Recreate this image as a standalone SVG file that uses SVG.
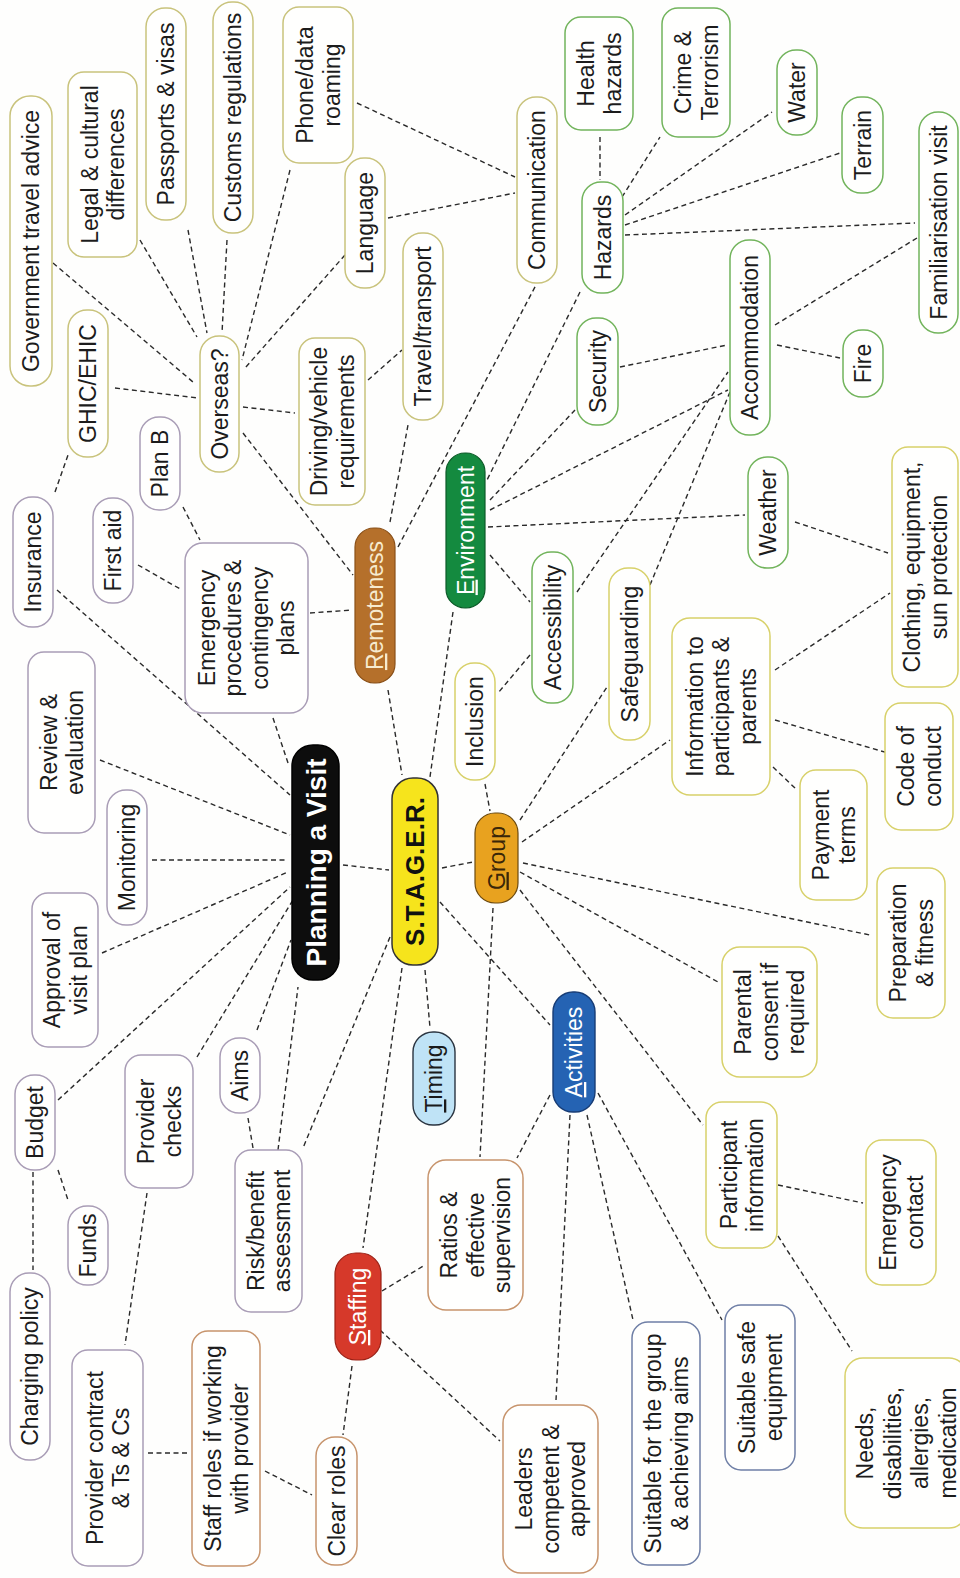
<svg xmlns="http://www.w3.org/2000/svg" width="960" height="1578" viewBox="0 0 960 1578">
<style>
.bg{fill:#fefefd}
.n rect{fill:#fffffe;stroke-width:1.5}
.t{font-family:"Liberation Sans",Arial,sans-serif;font-size:23px;fill:#1c1c1c;text-anchor:middle}
.ov rect{stroke:#c9c37c}
.gr rect{stroke:#72b45c}
.pu rect{stroke:#a99db6}
.br rect{stroke:#c7946c}
.bl rect{stroke:#6f7fa6}
.ye rect{stroke:#d8d16a}
.c line{stroke:#2a2a2a;stroke-width:1.4;stroke-dasharray:5 3.5;fill:none}
.b{font-weight:bold}
</style>
<rect class="bg" x="0" y="0" width="960" height="1578"/>
<g id="connectors" class="c">
<line x1="57" y1="590" x2="290" y2="795"/>
<line x1="100" y1="760" x2="290" y2="835"/>
<line x1="273" y1="718" x2="289" y2="766"/>
<line x1="152" y1="860" x2="288" y2="860"/>
<line x1="102" y1="953" x2="288" y2="872"/>
<line x1="58" y1="1100" x2="290" y2="887"/>
<line x1="197" y1="1057" x2="293" y2="900"/>
<line x1="257" y1="1030" x2="291" y2="940"/>
<line x1="278" y1="1150" x2="298" y2="987"/>
<line x1="343" y1="865" x2="389" y2="870"/>
<line x1="388" y1="690" x2="402" y2="775"/>
<line x1="453" y1="612" x2="430" y2="777"/>
<line x1="442" y1="868" x2="473" y2="862"/>
<line x1="440" y1="902" x2="550" y2="1025"/>
<line x1="425" y1="970" x2="430" y2="1028"/>
<line x1="402" y1="968" x2="363" y2="1248"/>
<line x1="390" y1="937" x2="303" y2="1148"/>
<line x1="243" y1="433" x2="353" y2="575"/>
<line x1="310" y1="613" x2="352" y2="610"/>
<line x1="390" y1="522" x2="408" y2="425"/>
<line x1="398" y1="547" x2="536" y2="285"/>
<line x1="53" y1="263" x2="193" y2="382"/>
<line x1="140" y1="240" x2="197" y2="337"/>
<line x1="188" y1="230" x2="207" y2="333"/>
<line x1="227" y1="240" x2="222" y2="333"/>
<line x1="290" y1="170" x2="242" y2="360"/>
<line x1="345" y1="255" x2="245" y2="368"/>
<line x1="115" y1="388" x2="198" y2="398"/>
<line x1="243" y1="407" x2="295" y2="413"/>
<line x1="368" y1="380" x2="402" y2="350"/>
<line x1="55" y1="492" x2="68" y2="455"/>
<line x1="183" y1="507" x2="200" y2="540"/>
<line x1="138" y1="565" x2="182" y2="590"/>
<line x1="357" y1="103" x2="515" y2="177"/>
<line x1="388" y1="218" x2="515" y2="193"/>
<line x1="600" y1="137" x2="600" y2="180"/>
<line x1="622" y1="197" x2="660" y2="137"/>
<line x1="625" y1="215" x2="772" y2="112"/>
<line x1="625" y1="225" x2="840" y2="153"/>
<line x1="625" y1="235" x2="915" y2="223"/>
<line x1="580" y1="292" x2="487" y2="480"/>
<line x1="490" y1="500" x2="575" y2="410"/>
<line x1="490" y1="510" x2="728" y2="390"/>
<line x1="488" y1="527" x2="745" y2="515"/>
<line x1="490" y1="555" x2="530" y2="602"/>
<line x1="620" y1="367" x2="727" y2="345"/>
<line x1="577" y1="592" x2="728" y2="372"/>
<line x1="650" y1="585" x2="730" y2="392"/>
<line x1="777" y1="345" x2="840" y2="358"/>
<line x1="775" y1="325" x2="917" y2="238"/>
<line x1="485" y1="784" x2="490" y2="811"/>
<line x1="520" y1="820" x2="607" y2="687"/>
<line x1="522" y1="842" x2="670" y2="740"/>
<line x1="523" y1="863" x2="870" y2="935"/>
<line x1="520" y1="872" x2="718" y2="982"/>
<line x1="520" y1="890" x2="703" y2="1125"/>
<line x1="493" y1="908" x2="480" y2="1157"/>
<line x1="773" y1="767" x2="797" y2="790"/>
<line x1="775" y1="720" x2="888" y2="753"/>
<line x1="775" y1="670" x2="890" y2="593"/>
<line x1="795" y1="522" x2="888" y2="553"/>
<line x1="530" y1="655" x2="498" y2="693"/>
<line x1="778" y1="1185" x2="863" y2="1203"/>
<line x1="778" y1="1236" x2="852" y2="1351"/>
<line x1="550" y1="1095" x2="517" y2="1158"/>
<line x1="570" y1="1115" x2="556" y2="1400"/>
<line x1="587" y1="1115" x2="633" y2="1320"/>
<line x1="598" y1="1093" x2="722" y2="1320"/>
<line x1="352" y1="1366" x2="343" y2="1435"/>
<line x1="382" y1="1291" x2="425" y2="1265"/>
<line x1="380" y1="1330" x2="500" y2="1441"/>
<line x1="33" y1="1172" x2="33" y2="1270"/>
<line x1="58" y1="1170" x2="68" y2="1200"/>
<line x1="147" y1="1193" x2="125" y2="1345"/>
<line x1="148" y1="1453" x2="187" y2="1453"/>
<line x1="265" y1="1471" x2="312" y2="1495"/>
<line x1="248" y1="1118" x2="253" y2="1148"/>
</g>

<g id="gov" class="n ov"><rect x="10" y="96" width="42" height="290" rx="20"/><text class="t" transform="translate(31 241) rotate(-90)"><tspan x="0" y="8">Government travel advice</tspan></text></g>
<g id="legal" class="n ov"><rect x="68" y="72" width="69" height="185" rx="16"/><text class="t" transform="translate(102.5 164.5) rotate(-90)"><tspan x="0" y="-5">Legal &amp; cultural</tspan><tspan x="0" y="21.5">differences</tspan></text></g>
<g id="passports" class="n ov"><rect x="146" y="8" width="40" height="212" rx="19"/><text class="t" transform="translate(166 114) rotate(-90)"><tspan x="0" y="8">Passports &amp; visas</tspan></text></g>
<g id="customs" class="n ov"><rect x="213" y="2" width="40" height="231" rx="19"/><text class="t" transform="translate(233 117.5) rotate(-90)"><tspan x="0" y="8">Customs regulations</tspan></text></g>
<g id="phone" class="n ov"><rect x="283" y="7" width="70" height="156" rx="16"/><text class="t" transform="translate(318 85) rotate(-90)"><tspan x="0" y="-5">Phone/data</tspan><tspan x="0" y="21.5">roaming</tspan></text></g>
<g id="language" class="n ov"><rect x="345" y="158" width="40" height="130" rx="19"/><text class="t" transform="translate(365 223) rotate(-90)"><tspan x="0" y="8">Language</tspan></text></g>
<g id="communication" class="n ov"><rect x="517" y="97" width="40" height="186" rx="19"/><text class="t" transform="translate(537 190) rotate(-90)"><tspan x="0" y="8">Communication</tspan></text></g>
<g id="overseas" class="n ov"><rect x="200" y="336" width="39" height="136" rx="19"/><text class="t" transform="translate(219.5 404) rotate(-90)"><tspan x="0" y="8">Overseas?</tspan></text></g>
<g id="ghic" class="n ov"><rect x="68" y="310" width="40" height="147" rx="19"/><text class="t" transform="translate(88 383.5) rotate(-90)"><tspan x="0" y="8">GHIC/EHIC</tspan></text></g>
<g id="driving" class="n ov"><rect x="299" y="338" width="66" height="167" rx="16"/><text class="t" transform="translate(332 421.5) rotate(-90)"><tspan x="0" y="-5">Driving/vehicle</tspan><tspan x="0" y="21.5">requirements</tspan></text></g>
<g id="travel" class="n ov"><rect x="403" y="233" width="40" height="187" rx="19"/><text class="t" transform="translate(423 326.5) rotate(-90)"><tspan x="0" y="8">Travel/transport</tspan></text></g>

<g id="health" class="n gr"><rect x="565" y="17" width="68" height="113" rx="16"/><text class="t" transform="translate(599 73.5) rotate(-90)"><tspan x="0" y="-5">Health</tspan><tspan x="0" y="21.5">hazards</tspan></text></g>
<g id="hazards" class="n gr"><rect x="582" y="182" width="41" height="111" rx="19"/><text class="t" transform="translate(602.5 237.5) rotate(-90)"><tspan x="0" y="8">Hazards</tspan></text></g>
<g id="crime" class="n gr"><rect x="662" y="8" width="68" height="129" rx="16"/><text class="t" transform="translate(696 72.5) rotate(-90)"><tspan x="0" y="-5">Crime &amp;</tspan><tspan x="0" y="21.5">Terrorism</tspan></text></g>
<g id="water" class="n gr"><rect x="777" y="50" width="40" height="85" rx="19"/><text class="t" transform="translate(797 92.5) rotate(-90)"><tspan x="0" y="8">Water</tspan></text></g>
<g id="terrain" class="n gr"><rect x="842" y="97" width="41" height="96" rx="19"/><text class="t" transform="translate(862.5 145) rotate(-90)"><tspan x="0" y="8">Terrain</tspan></text></g>
<g id="familiarisation" class="n gr"><rect x="919" y="112" width="39" height="221" rx="19"/><text class="t" transform="translate(938.5 222.5) rotate(-90)"><tspan x="0" y="8">Familiarisation visit</tspan></text></g>
<g id="fire" class="n gr"><rect x="843" y="330" width="40" height="67" rx="19"/><text class="t" transform="translate(863 363.5) rotate(-90)"><tspan x="0" y="8">Fire</tspan></text></g>
<g id="accommodation" class="n gr"><rect x="730" y="240" width="40" height="195" rx="19"/><text class="t" transform="translate(750 337.5) rotate(-90)"><tspan x="0" y="8">Accommodation</tspan></text></g>
<g id="security" class="n gr"><rect x="577" y="318" width="41" height="107" rx="19"/><text class="t" transform="translate(597.5 371.5) rotate(-90)"><tspan x="0" y="8">Security</tspan></text></g>
<g id="weather" class="n gr"><rect x="748" y="457" width="40" height="111" rx="19"/><text class="t" transform="translate(768 512.5) rotate(-90)"><tspan x="0" y="8">Weather</tspan></text></g>
<g id="accessibility" class="n gr"><rect x="532" y="552" width="41" height="151" rx="19"/><text class="t" transform="translate(552.5 627.5) rotate(-90)"><tspan x="0" y="8">Accessibility</tspan></text></g>

<g id="insurance" class="n pu"><rect x="13" y="497" width="40" height="130" rx="19"/><text class="t" transform="translate(33 562) rotate(-90)"><tspan x="0" y="8">Insurance</tspan></text></g>
<g id="firstaid" class="n pu"><rect x="93" y="498" width="40" height="105" rx="19"/><text class="t" transform="translate(113 550.5) rotate(-90)"><tspan x="0" y="8">First aid</tspan></text></g>
<g id="planb" class="n pu"><rect x="140" y="417" width="40" height="93" rx="19"/><text class="t" transform="translate(160 463.5) rotate(-90)"><tspan x="0" y="8">Plan B</tspan></text></g>
<g id="emergency" class="n pu"><rect x="185" y="543" width="123" height="170" rx="18"/><text class="t" transform="translate(246.5 628) rotate(-90)"><tspan x="0" y="-32">Emergency</tspan><tspan x="0" y="-5.5">procedures &amp;</tspan><tspan x="0" y="21">contingency</tspan><tspan x="0" y="47.5">plans</tspan></text></g>
<g id="review" class="n pu"><rect x="28" y="652" width="67" height="181" rx="16"/><text class="t" transform="translate(61.5 742.5) rotate(-90)"><tspan x="0" y="-5">Review &amp;</tspan><tspan x="0" y="21.5">evaluation</tspan></text></g>
<g id="monitoring" class="n pu"><rect x="107" y="790" width="40" height="135" rx="19"/><text class="t" transform="translate(127 857.5) rotate(-90)"><tspan x="0" y="8">Monitoring</tspan></text></g>
<g id="approval" class="n pu"><rect x="32" y="893" width="66" height="154" rx="16"/><text class="t" transform="translate(65 970) rotate(-90)"><tspan x="0" y="-5">Approval of</tspan><tspan x="0" y="21.5">visit plan</tspan></text></g>
<g id="budget" class="n pu"><rect x="15" y="1075" width="40" height="95" rx="19"/><text class="t" transform="translate(35 1122.5) rotate(-90)"><tspan x="0" y="8">Budget</tspan></text></g>
<g id="provchecks" class="n pu"><rect x="125" y="1055" width="68" height="133" rx="16"/><text class="t" transform="translate(159 1121.5) rotate(-90)"><tspan x="0" y="-5">Provider</tspan><tspan x="0" y="21.5">checks</tspan></text></g>
<g id="aims" class="n pu"><rect x="220" y="1038" width="40" height="75" rx="19"/><text class="t" transform="translate(240 1075.5) rotate(-90)"><tspan x="0" y="8">Aims</tspan></text></g>
<g id="risk" class="n pu"><rect x="235" y="1150" width="67" height="162" rx="16"/><text class="t" transform="translate(268.5 1231) rotate(-90)"><tspan x="0" y="-5">Risk/benefit</tspan><tspan x="0" y="21.5">assessment</tspan></text></g>
<g id="charging" class="n pu"><rect x="10" y="1273" width="40" height="187" rx="19"/><text class="t" transform="translate(30 1366.5) rotate(-90)"><tspan x="0" y="8">Charging policy</tspan></text></g>
<g id="funds" class="n pu"><rect x="68" y="1206" width="40" height="79" rx="19"/><text class="t" transform="translate(88 1245.5) rotate(-90)"><tspan x="0" y="8">Funds</tspan></text></g>
<g id="provcontract" class="n pu"><rect x="72" y="1350" width="71" height="216" rx="16"/><text class="t" transform="translate(107.5 1458) rotate(-90)"><tspan x="0" y="-5">Provider contract</tspan><tspan x="0" y="21.5">&amp; Ts &amp; Cs</tspan></text></g>

<g id="staffroles" class="n br"><rect x="192" y="1331" width="68" height="235" rx="16"/><text class="t" transform="translate(226 1448.5) rotate(-90)"><tspan x="0" y="-5">Staff roles if working</tspan><tspan x="0" y="21.5">with provider</tspan></text></g>
<g id="clearroles" class="n br"><rect x="316" y="1437" width="41" height="128" rx="19"/><text class="t" transform="translate(336.5 1501) rotate(-90)"><tspan x="0" y="8">Clear roles</tspan></text></g>
<g id="ratios" class="n br"><rect x="428" y="1160" width="95" height="150" rx="18"/><text class="t" transform="translate(475.5 1235) rotate(-90)"><tspan x="0" y="-18.5">Ratios &amp;</tspan><tspan x="0" y="8">effective</tspan><tspan x="0" y="34.5">supervision</tspan></text></g>
<g id="leaders" class="n br"><rect x="503" y="1405" width="95" height="168" rx="18"/><text class="t" transform="translate(550.5 1489) rotate(-90)"><tspan x="0" y="-18.5">Leaders</tspan><tspan x="0" y="8">competent &amp;</tspan><tspan x="0" y="34.5">approved</tspan></text></g>

<g id="suitgroup" class="n bl"><rect x="632" y="1322" width="68" height="243" rx="16"/><text class="t" transform="translate(666 1443.5) rotate(-90)"><tspan x="0" y="-5">Suitable for the group</tspan><tspan x="0" y="21.5">&amp; achieving aims</tspan></text></g>
<g id="suitequip" class="n bl"><rect x="725" y="1305" width="70" height="165" rx="16"/><text class="t" transform="translate(760 1387.5) rotate(-90)"><tspan x="0" y="-5">Suitable safe</tspan><tspan x="0" y="21.5">equipment</tspan></text></g>

<g id="needs" class="n ye"><rect x="845" y="1358" width="122" height="170" rx="18"/><text class="t" transform="translate(906 1443) rotate(-90)"><tspan x="0" y="-33">Needs,</tspan><tspan x="0" y="-5.5">disabilities,</tspan><tspan x="0" y="22">allergies,</tspan><tspan x="0" y="49.5">medication</tspan></text></g>
<g id="emcontact" class="n ye"><rect x="866" y="1140" width="70" height="145" rx="16"/><text class="t" transform="translate(901 1212.5) rotate(-90)"><tspan x="0" y="-5">Emergency</tspan><tspan x="0" y="21.5">contact</tspan></text></g>
<g id="partinfo" class="n ye"><rect x="706" y="1102" width="71" height="146" rx="16"/><text class="t" transform="translate(741.5 1175) rotate(-90)"><tspan x="0" y="-5">Participant</tspan><tspan x="0" y="21.5">information</tspan></text></g>
<g id="parental" class="n ye"><rect x="722" y="947" width="95" height="130" rx="18"/><text class="t" transform="translate(769.5 1012) rotate(-90)"><tspan x="0" y="-18.5">Parental</tspan><tspan x="0" y="8">consent if</tspan><tspan x="0" y="34.5">required</tspan></text></g>
<g id="prep" class="n ye"><rect x="877" y="868" width="68" height="150" rx="16"/><text class="t" transform="translate(911 943) rotate(-90)"><tspan x="0" y="-5">Preparation</tspan><tspan x="0" y="21.5">&amp; fitness</tspan></text></g>
<g id="payment" class="n ye"><rect x="800" y="770" width="67" height="130" rx="16"/><text class="t" transform="translate(833.5 835) rotate(-90)"><tspan x="0" y="-5">Payment</tspan><tspan x="0" y="21.5">terms</tspan></text></g>
<g id="code" class="n ye"><rect x="885" y="703" width="68" height="127" rx="16"/><text class="t" transform="translate(919 766.5) rotate(-90)"><tspan x="0" y="-5">Code of</tspan><tspan x="0" y="21.5">conduct</tspan></text></g>
<g id="info" class="n ye"><rect x="672" y="618" width="98" height="177" rx="18"/><text class="t" transform="translate(721 706.5) rotate(-90)"><tspan x="0" y="-18.5">Information to</tspan><tspan x="0" y="8">participants &amp;</tspan><tspan x="0" y="34.5">parents</tspan></text></g>
<g id="clothing" class="n ye"><rect x="892" y="447" width="66" height="240" rx="16"/><text class="t" transform="translate(925 567) rotate(-90)"><tspan x="0" y="-5">Clothing, equipment,</tspan><tspan x="0" y="21.5">sun protection</tspan></text></g>
<g id="safeguarding" class="n ye"><rect x="609" y="568" width="41" height="172" rx="19"/><text class="t" transform="translate(629.5 654) rotate(-90)"><tspan x="0" y="8">Safeguarding</tspan></text></g>
<g id="inclusion" class="n ye"><rect x="455" y="663" width="40" height="117" rx="19"/><text class="t" transform="translate(475 721.5) rotate(-90)"><tspan x="0" y="8">Inclusion</tspan></text></g>

<g id="planning"><rect x="292" y="745" width="47" height="235" rx="21" fill="#0d0d0d" stroke="#000" stroke-width="1.5"/><text class="t b" style="font-size:28px;fill:#fff" transform="translate(315.5 862.5) rotate(-90)"><tspan x="0" y="10">Planning a Visit</tspan></text></g>
<g id="stager"><rect x="392" y="778" width="46" height="187" rx="21" fill="#f6e41c" stroke="#333" stroke-width="1.5"/><text class="t b" style="font-size:26px;fill:#111" transform="translate(415 871.5) rotate(-90)"><tspan x="0" y="9">S.T.A.G.E.R.</tspan></text></g>
<g id="group"><rect x="475" y="813" width="43" height="90" rx="20" fill="#e8a21f" stroke="#6b4a10" stroke-width="1.2"/><text class="t" style="fill:#3a2608" transform="translate(496.5 858) rotate(-90)"><tspan x="0" y="8"><tspan text-decoration="underline">G</tspan>roup</tspan></text></g>
<g id="environment"><rect x="446" y="453" width="39" height="155" rx="19" fill="#148a3f" stroke="#0c5a28" stroke-width="1.2"/><text class="t" style="fill:#fff" transform="translate(465.5 530.5) rotate(-90)"><tspan x="0" y="8"><tspan text-decoration="underline">E</tspan>nvironment</tspan></text></g>
<g id="remoteness"><rect x="355" y="528" width="40" height="155" rx="19" fill="#b5702b" stroke="#8a5018" stroke-width="1.2"/><text class="t" style="fill:#f7ebcf" transform="translate(375 605.5) rotate(-90)"><tspan x="0" y="8"><tspan text-decoration="underline">R</tspan>emoteness</tspan></text></g>
<g id="timing"><rect x="413" y="1032" width="42" height="93" rx="20" fill="#bfe3f6" stroke="#2a3440" stroke-width="1.4"/><text class="t" style="fill:#1a1a1a" transform="translate(434 1078.5) rotate(-90)"><tspan x="0" y="8"><tspan text-decoration="underline">T</tspan>iming</tspan></text></g>
<g id="activities"><rect x="553" y="992" width="42" height="120" rx="20" fill="#2563b3" stroke="#173c75" stroke-width="1.4"/><text class="t" style="fill:#fff" transform="translate(574 1052) rotate(-90)"><tspan x="0" y="8"><tspan text-decoration="underline">A</tspan>ctivities</tspan></text></g>
<g id="staffing"><rect x="335" y="1253" width="46" height="107" rx="21" fill="#d6392a" stroke="#9a2015" stroke-width="1.2"/><text class="t" style="fill:#fff" transform="translate(358 1306.5) rotate(-90)"><tspan x="0" y="8"><tspan text-decoration="underline">S</tspan>taffing</tspan></text></g>
</svg>
